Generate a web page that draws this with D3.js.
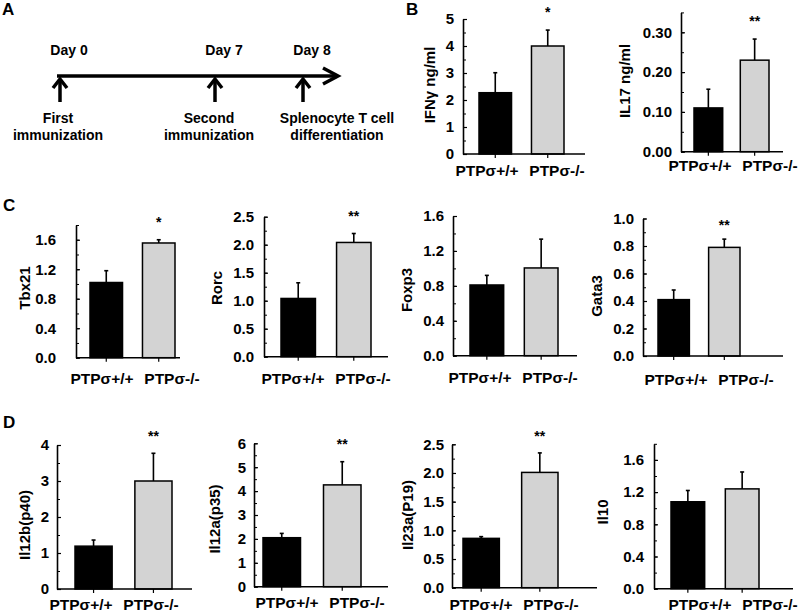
<!DOCTYPE html>
<html><head><meta charset="utf-8">
<script src="https://cdn.jsdelivr.net/npm/d3@7"></script>
<style>
body{margin:0;background:#fff;}
svg{display:block;font-family:"Liberation Sans",Arial,sans-serif;font-weight:bold;}
</style></head><body>
<svg id="c" width="800" height="613"></svg>
<script>
// ---------- DATA ----------
const categories = ["PTPσ+/+", "PTPσ-/-"];
const chartNames = ["IFNγ ng/ml", "IL17 ng/ml", "Tbx21", "Rorc", "Foxp3", "Gata3", "Il12b(p40)", "Il12a(p35)", "Il23a(P19)", "Il10"];
const wtMeans  = [2.27, 0.11, 1.02, 1.04, 0.81, 0.41, 1.19, 2.05, 0.86, 1.08];
const wtErrors = [0.74, 0.047, 0.16, 0.28, 0.11, 0.07, 0.17, 0.18, 0.03, 0.14];
const koMeans  = [4.0, 0.23, 1.556, 2.04, 1.005, 0.79, 3.0, 4.26, 2.01, 1.24];
const koErrors = [0.59, 0.053, 0.044, 0.16, 0.33, 0.06, 0.77, 0.97, 0.34, 0.21];
const significance = ["*", "**", "*", "**", "", "**", "**", "**", "**", ""];
const yMaxes = [5, 0.35, 1.8, 2.5, 1.6, 1.0, 4, 6, 2.5, 1.8];
const tickValues = [
  [0, 1, 2, 3, 4, 5],
  [0, 0.1, 0.2, 0.3],
  [0, 0.4, 0.8, 1.2, 1.6],
  [0, 0.5, 1.0, 1.5, 2.0, 2.5],
  [0, 0.4, 0.8, 1.2, 1.6],
  [0, 0.2, 0.4, 0.6, 0.8, 1.0],
  [0, 1, 2, 3, 4],
  [0, 1, 2, 3, 4, 5, 6],
  [0, 0.5, 1.0, 1.5, 2.0, 2.5],
  [0, 0.4, 0.8, 1.2, 1.6]
];
const tickFormats = ["d", ".2f", ".1f", ".1f", ".1f", ".1f", "d", "d", ".1f", ".1f"];
const minorSteps = [0.5, 0.05, 0.2, 0.25, 0.2, 0.1, 0.5, 0.5, 0.25, 0.2];

const timelineDays = [0, 7, 8];
const dayLabels = ["Day 0", "Day 7", "Day 8"];
const eventLabels = [["First", "immunization"], ["Second", "immunization"], ["Splenocyte T cell", "differentiation"]];
const panelLetters = ["A", "B", "C", "D"];

// ---------- LAYOUT ----------
const layout = [
  {ax:463, y0:154,   yTop:19,    xEnd:585, band:[479,564], labMid:522, labBase:176, gap:9,  title:[430,85],  sig:17},
  {ax:681, y0:151.7, yTop:12.4,  xEnd:783, band:[694,769], labMid:735, labBase:171, gap:9,  title:[625,81],  sig:26},
  {ax:76,  y0:357.7, yTop:225,   xEnd:180, band:[90,175],  labMid:137, labBase:384, gap:20, title:[25,288],  sig:227},
  {ax:264, y0:356.7, yTop:216.7, xEnd:388, band:[281,371], labMid:328, labBase:384, gap:10, title:[217,288], sig:221},
  {ax:453, y0:355.7, yTop:216,   xEnd:577, band:[470,558], labMid:515, labBase:383, gap:9,  title:[407,290], sig:0},
  {ax:643, y0:356,   yTop:218.5, xEnd:783, band:[658,740], labMid:711, labBase:385, gap:9,  title:[597,296], sig:230},
  {ax:57,  y0:589,   yTop:445,   xEnd:192, band:[75,172],  labMid:116, labBase:610, gap:8,  title:[25,525],  sig:441},
  {ax:254, y0:586.7, yTop:443.3, xEnd:388, band:[263,361], labMid:322, labBase:608, gap:8,  title:[215,519], sig:449},
  {ax:452, y0:587.7, yTop:444.3, xEnd:597, band:[463,558], labMid:516, labBase:610, gap:8,  title:[408,515], sig:441},
  {ax:654, y0:588.7, yTop:443.8, xEnd:793, band:[671,759], labMid:735, labBase:610, gap:10, title:[603,512], sig:0}
];
const letterPos = [[2,15],[406,15],[3,211],[3,428]];
const fills = ["#000000", "#d3d3d3"];

const svg = d3.select("#c");

// panel letters
svg.selectAll("text.letter").data(panelLetters).join("text")
  .attr("class","letter")
  .attr("x", (d,i)=>letterPos[i][0]).attr("y", (d,i)=>letterPos[i][1])
  .attr("font-size", 17).text(d=>d);

// ---------- PANEL A: timeline ----------
const tx = d3.scaleLinear().domain(timelineDays).range([60, 215, 303]);
const gA = svg.append("g");
const lineY = 76;
gA.append("line").attr("x1", tx(0)-3).attr("x2", tx(8)+35).attr("y1", lineY).attr("y2", lineY)
  .attr("stroke","#000").attr("stroke-width",3.5);
gA.append("path").attr("d", `M${tx(8)+20},${lineY-8}L${tx(8)+35},${lineY}L${tx(8)+20},${lineY+8}`)
  .attr("fill","none").attr("stroke","#000").attr("stroke-width",3.5).attr("stroke-linejoin","miter");
timelineDays.forEach((d,i)=>{
  const x = tx(d);
  gA.append("line").attr("x1",x).attr("x2",x).attr("y1",lineY+3).attr("y2",102)
    .attr("stroke","#000").attr("stroke-width",3.5);
  gA.append("path").attr("d",`M${x-7},${lineY+12}L${x},${lineY+3}L${x+7},${lineY+12}`)
    .attr("fill","none").attr("stroke","#000").attr("stroke-width",3.5);
  gA.append("text").attr("x", x+9).attr("y", 55).attr("text-anchor","middle")
    .attr("font-size",14).text(dayLabels[i]);
  const ex = [x-2, x-6, x+34][i];
  eventLabels[i].forEach((t,j)=>{
    gA.append("text").attr("x", ex).attr("y", 123 + j*17).attr("text-anchor","middle")
      .attr("font-size",14).text(t);
  });
});

// ---------- BAR CHARTS ----------
chartNames.forEach((name, i)=>{
  const L = layout[i];
  const g = svg.append("g");
  const y = d3.scaleLinear().domain([0, yMaxes[i]]).range([L.y0, L.yTop]);
  const x = d3.scaleBand().domain(categories).range(L.band).paddingInner(0.38).paddingOuter(0);
  const xl = d3.scalePoint().domain(categories).range([L.labMid-35, L.labMid+35]);
  const means = [wtMeans[i], koMeans[i]];
  const errs = [wtErrors[i], koErrors[i]];
  const rows = categories.map((c,k)=>({c, m:means[k], e:errs[k], k}));

  // error bars (behind bars)
  rows.forEach(r=>{
    const cx = x(r.c) + x.bandwidth()/2;
    g.append("line").attr("x1",cx).attr("x2",cx).attr("y1",y(r.m)).attr("y2",y(r.m+r.e))
      .attr("stroke","#000").attr("stroke-width",1.6);
    g.append("line").attr("x1",cx-2).attr("x2",cx+2).attr("y1",y(r.m+r.e)).attr("y2",y(r.m+r.e))
      .attr("stroke","#000").attr("stroke-width",1.6);
  });
  // bars
  g.selectAll("rect").data(rows).join("rect")
    .attr("x", r=>x(r.c)).attr("width", x.bandwidth())
    .attr("y", r=>y(r.m)).attr("height", r=>L.y0 - y(r.m))
    .attr("fill", r=>fills[r.k]).attr("stroke","#000").attr("stroke-width",1.5);

  // minor ticks
  const minors = d3.range(0, yMaxes[i] + 1e-9, minorSteps[i]);
  g.append("g").attr("transform",`translate(${L.ax},0)`)
    .call(d3.axisLeft(y).tickValues(minors).tickSize(-3).tickFormat(""))
    .call(s=>s.select(".domain").remove())
    .call(s=>s.selectAll("line").attr("stroke-width",1));
  // y axis
  const ya = g.append("g").attr("transform",`translate(${L.ax},0)`)
    .call(d3.axisLeft(y).tickValues(tickValues[i]).tickFormat(d3.format(tickFormats[i]))
      .tickSizeInner(-4).tickSizeOuter(0).tickPadding(L.gap));
  ya.select(".domain").attr("stroke-width",1.6);
  ya.selectAll("line").attr("stroke-width",1.2);
  ya.selectAll("text").attr("font-size",15).attr("font-family",null).attr("fill","#000");

  // x axis line
  g.append("line").attr("x1",L.ax).attr("x2",L.xEnd).attr("y1",L.y0).attr("y2",L.y0)
    .attr("stroke","#000").attr("stroke-width",1.6);
  // x ticks
  const xa = g.append("g").attr("transform",`translate(0,${L.y0})`)
    .call(d3.axisBottom(x).tickSize(4).tickFormat(""));
  xa.select(".domain").remove();
  xa.selectAll("line").attr("stroke-width",1.2);
  // x labels
  g.selectAll("text.xl").data(categories).join("text").attr("class","xl")
    .attr("x", c=>xl(c)).attr("y", L.labBase).attr("text-anchor","middle")
    .attr("font-size",15.5).text(c=>c);

  // y title
  g.append("text").attr("transform",`translate(${L.title[0]},${L.title[1]}) rotate(-90)`)
    .attr("text-anchor","middle").attr("dy","0.35em").attr("font-size",15).text(name);

  // significance
  if (significance[i]) {
    g.append("text").attr("x", x(categories[1]) + x.bandwidth()/2).attr("y", L.sig)
      .attr("text-anchor","middle").attr("font-size",14).text(significance[i]);
  }
});
</script>
</body></html>
